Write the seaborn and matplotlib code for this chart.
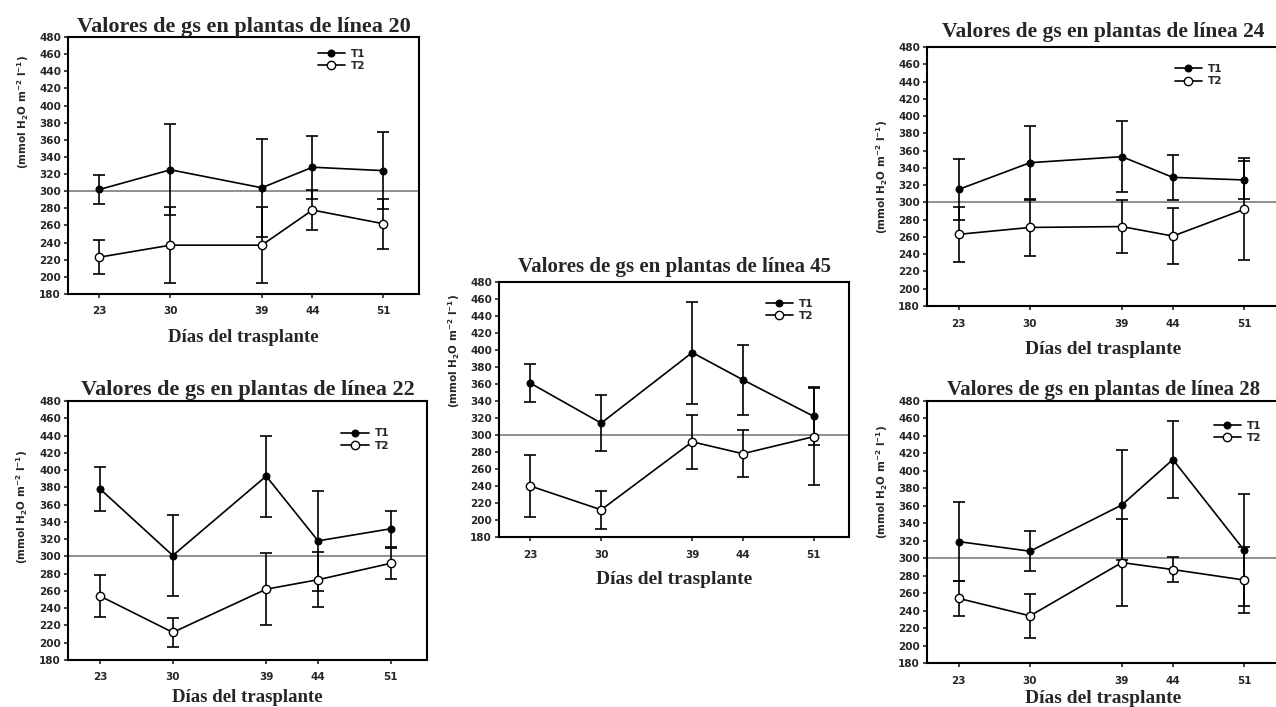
import matplotlib
matplotlib.use("Agg")
import matplotlib.pyplot as plt
import seaborn as sns
import pandas as pd

# === Data ===
days = [23, 30, 39, 44, 51]
day_labels = ["23", "30", "39", "44", "51"]
y_ticks = list(range(180, 481, 20))

lineas = ["20", "22", "45", "24", "28"]

t1_l20 = [302, 325, 304, 328, 324]
t1_err_l20 = [17, 53, 57, 37, 45]
t2_l20 = [223, 237, 237, 278, 262]
t2_err_l20 = [20, 44, 44, 23, 29]

t1_l22 = [378, 301, 393, 318, 332]
t1_err_l22 = [25, 47, 47, 58, 21]
t2_l22 = [254, 212, 262, 273, 292]
t2_err_l22 = [24, 17, 42, 32, 18]

t1_l45 = [361, 314, 397, 365, 322]
t1_err_l45 = [22, 33, 60, 41, 34]
t2_l45 = [240, 212, 292, 278, 298]
t2_err_l45 = [37, 22, 32, 28, 57]

t1_l24 = [315, 346, 353, 329, 326]
t1_err_l24 = [35, 43, 41, 26, 22]
t2_l24 = [263, 271, 272, 261, 292]
t2_err_l24 = [32, 33, 31, 32, 59]

t1_l28 = [319, 308, 361, 413, 309]
t1_err_l28 = [45, 23, 63, 44, 64]
t2_l28 = [254, 234, 295, 287, 275]
t2_err_l28 = [20, 25, 50, 14, 38]

reference_gs = 300

series = {
    "20": (t1_l20, t1_err_l20, t2_l20, t2_err_l20),
    "22": (t1_l22, t1_err_l22, t2_l22, t2_err_l22),
    "45": (t1_l45, t1_err_l45, t2_l45, t2_err_l45),
    "24": (t1_l24, t1_err_l24, t2_l24, t2_err_l24),
    "28": (t1_l28, t1_err_l28, t2_l28, t2_err_l28),
}

# === Layout (pixels of the 1276x707 picture) ===
W, H = 1276, 707
boxes = {
    "20": (68, 419, 37, 294),
    "22": (68, 427, 401, 660),
    "45": (499, 849, 282, 537),
    "24": (927, 1280, 47, 306),
    "28": (927, 1280, 401, 663),
}
ylabel_y = {"20": 0.71, "22": 0.59, "45": 0.73, "24": 0.5, "28": 0.69}
legend_xy = {"20": (0.70, 0.97), "22": (0.75, 0.91), "45": (0.75, 0.95),
             "24": (0.69, 0.95), "28": (0.80, 0.94)}
title_pad = {"20": 3, "22": 4, "45": 7, "24": 7, "28": 4}
title_size = {"20": 16, "22": 16, "45": 15, "24": 15.5, "28": 15}
xlabel_size = {"20": 13.5, "22": 13.5, "45": 14, "24": 14, "28": 14}
xlabel_pad = {"20": 9, "22": 5, "45": 8, "24": 9, "28": 3}

sns.set_style("ticks")
plt.rcParams["font.family"] = ["DejaVu Sans"]
plt.rcParams["mathtext.default"] = "regular"

fig = plt.figure(figsize=(W / 100, H / 100), dpi=100)

serif = "Liberation Serif"

for linea in lineas:
    x0, x1, y0, y1 = boxes[linea]
    ax = fig.add_axes([x0 / W, 1 - y1 / H, (x1 - x0) / W, (y1 - y0) / H])
    t1, t1e, t2, t2e = series[linea]
    df = pd.DataFrame({"dia": days, "T1": t1, "T2": t2})

    ax.axhline(reference_gs, color="#8f8f8f", lw=1.4, zorder=1)

    ax.errorbar(days, t1, yerr=t1e, fmt="none", ecolor="black",
                elinewidth=1.2, capsize=4, capthick=1.2, zorder=2)
    ax.errorbar(days, t2, yerr=t2e, fmt="none", ecolor="black",
                elinewidth=1.2, capsize=4, capthick=1.2, zorder=2)

    sns.lineplot(data=df, x="dia", y="T1", ax=ax, color="black", lw=1.2,
                 marker="o", markersize=5, markerfacecolor="black",
                 markeredgecolor="black", label="T1", zorder=3)
    sns.lineplot(data=df, x="dia", y="T2", ax=ax, color="black", lw=1.2,
                 marker="o", markersize=6, markerfacecolor="white",
                 markeredgecolor="black", markeredgewidth=1.0, label="T2", zorder=3)

    ax.set_xlim(19.9, 54.5)
    ax.set_ylim(180, 480)
    ax.set_xticks(days)
    ax.set_xticklabels(day_labels)
    ax.set_yticks(y_ticks)
    ax.tick_params(axis="both", labelsize=7.5, width=1.2, length=3, pad=2)
    for lab in ax.get_xticklabels() + ax.get_yticklabels():
        lab.set_fontweight("heavy")
    ax.tick_params(axis="x", pad=6)

    for sp in ax.spines.values():
        sp.set_visible(True)
        sp.set_linewidth(1.5)
        sp.set_color("black")

    ax.set_title(f"Valores de gs en plantas de línea {linea}", family=serif,
                 fontweight="bold", fontsize=title_size[linea], pad=title_pad[linea])
    ax.set_xlabel("Días del trasplante", family=serif, fontweight="bold",
                  fontsize=xlabel_size[linea], labelpad=xlabel_pad[linea])
    ax.set_ylabel("(mmol H$_2$O m$^{-2}$ l$^{-1}$)", fontweight="bold", fontsize=7.5)
    ax.yaxis.set_label_coords(-0.105, ylabel_y[linea])

    leg = ax.legend(loc="upper left", bbox_to_anchor=legend_xy[linea], frameon=False,
                    fontsize=7.5, handlelength=2.6, labelspacing=0.2,
                    borderaxespad=0, handletextpad=0.6)
    for txt in leg.get_texts():
        txt.set_fontweight("bold")

fig.savefig("out.png", dpi=100)
